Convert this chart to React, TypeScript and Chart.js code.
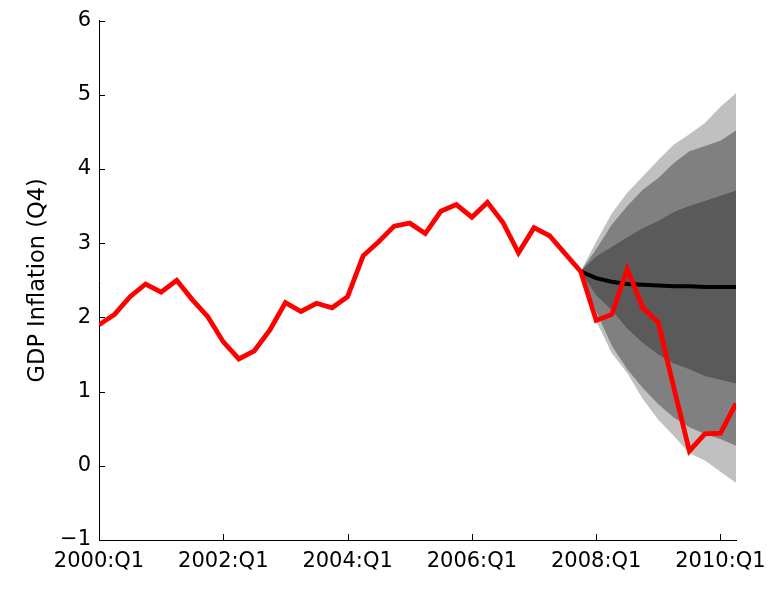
import React, { useEffect, useRef } from "react";
import { Chart, registerables } from "chart.js";

Chart.register(...registerables);

// Quarterly data, index 0 = 2000:Q1 ... index 41 = 2010:Q2
const tickLabels = ["2000:Q1", "2002:Q1", "2004:Q1", "2006:Q1", "2008:Q1", "2010:Q1"];
const tickIndices = [0, 8, 16, 24, 32, 40];
const yTicks = [-1, 0, 1, 2, 3, 4, 5, 6];

const actualInflation = [
  1.9, 2.04, 2.28, 2.45, 2.34, 2.5, 2.24, 2.01, 1.67, 1.44,
  1.55, 1.83, 2.2, 2.08, 2.19, 2.13, 2.28, 2.83, 3.02, 3.23,
  3.27, 3.13, 3.43, 3.52, 3.35, 3.55, 3.28, 2.87, 3.21, 3.1,
  2.86, 2.62, 1.96, 2.04, 2.65, 2.13, 1.93, 1.05, 0.2, 0.43,
  0.44, 0.84,
];

// Forecast fan, starting at 2007:Q4 (index 31)
const fanStart = 31;
const medianForecast = [2.62, 2.53, 2.48, 2.45, 2.44, 2.43, 2.42, 2.42, 2.41, 2.41, 2.41];
const lightUpper = [2.62, 3.02, 3.4, 3.68, 3.9, 4.12, 4.33, 4.47, 4.62, 4.84, 5.02];
const midUpper = [2.62, 2.92, 3.25, 3.5, 3.72, 3.88, 4.08, 4.24, 4.31, 4.38, 4.52];
const darkUpper = [2.62, 2.82, 2.95, 3.08, 3.2, 3.3, 3.42, 3.5, 3.57, 3.64, 3.71];
const darkLower = [2.62, 2.3, 2.1, 1.85, 1.66, 1.5, 1.38, 1.3, 1.21, 1.16, 1.11];
const midLower = [2.62, 2.08, 1.62, 1.3, 1.05, 0.83, 0.65, 0.52, 0.43, 0.36, 0.27];
const lightLower = [2.62, 1.95, 1.52, 1.25, 0.9, 0.62, 0.4, 0.17, 0.07, -0.08, -0.23];

const toPts = (arr: number[], start: number) => arr.map((v, i) => ({ x: start + i, y: v }));

const FONT = "DejaVu Sans";

const innerTicks = {
  id: "innerTicks",
  afterDatasetsDraw(chart: any) {
    const { ctx, chartArea, scales } = chart;
    ctx.save();
    ctx.strokeStyle = "#000";
    ctx.lineWidth = 1;
    scales.y.ticks.forEach((t: any) => {
      const py = Math.round(scales.y.getPixelForValue(t.value)) + 0.5;
      ctx.beginPath();
      ctx.moveTo(chartArea.left, py);
      ctx.lineTo(chartArea.left + 6, py);
      ctx.stroke();
    });
    scales.x.ticks.forEach((t: any) => {
      const px = Math.round(scales.x.getPixelForValue(t.value)) + 0.5;
      ctx.beginPath();
      ctx.moveTo(px, chartArea.bottom);
      ctx.lineTo(px, chartArea.bottom - 6);
      ctx.stroke();
    });
    ctx.restore();
  },
};

export default function App() {
  const ref = useRef<HTMLCanvasElement>(null);
  useEffect(() => {
    if (!ref.current) return;
    const band = (data: number[], order: number) => ({
      data: toPts(data, fanStart),
      borderWidth: 0,
      pointRadius: 0,
      order,
    });
    const chart = new Chart(ref.current, {
      type: "line",
      data: {
        datasets: [
          { ...band(lightLower, 10), fill: false },
          { ...band(lightUpper, 10), fill: 0, backgroundColor: "#c0c0c0" },
          { ...band(midLower, 9), fill: false },
          { ...band(midUpper, 9), fill: 2, backgroundColor: "#808080" },
          { ...band(darkLower, 8), fill: false },
          { ...band(darkUpper, 8), fill: 4, backgroundColor: "#5a5a5a" },
          {
            data: toPts(medianForecast, fanStart),
            borderColor: "#000",
            borderWidth: 4,
            pointRadius: 0,
            fill: false,
            order: 2,
          },
          {
            data: toPts(actualInflation, 0),
            borderColor: "#ff0000",
            borderWidth: 4.8,
            pointRadius: 0,
            fill: false,
            order: 1,
          },
        ] as any,
      },
      options: {
        animation: false,
        responsive: false,
        devicePixelRatio: 1,
        parsing: false as any,
        layout: { padding: { left: 0, top: 17, right: 46, bottom: 0 } },
        plugins: { legend: { display: false }, tooltip: { enabled: false } },
        elements: { line: { tension: 0 } },
        scales: {
          x: {
            type: "linear",
            min: 0,
            max: 41,
            grid: { display: false, drawTicks: false },
            border: { display: true, color: "#000", width: 1 },
            afterBuildTicks: (s: any) => {
              s.ticks = tickIndices.map((v) => ({ value: v }));
            },
            ticks: {
              color: "#000",
              padding: 9,
              maxRotation: 0,
              autoSkip: false,
              font: { family: FONT, size: 21 },
              callback: (v: any) => {
                const i = tickIndices.indexOf(Number(v));
                return i >= 0 ? tickLabels[i] : "";
              },
            },
            afterFit: (s: any) => {
              s.height = 49;
            },
          },
          y: {
            type: "linear",
            min: yTicks[0],
            max: yTicks[yTicks.length - 1],
            grid: { display: false, drawTicks: false },
            border: { display: true, color: "#000", width: 1 },
            afterBuildTicks: (s: any) => {
              s.ticks = yTicks.map((v) => ({ value: v }));
            },
            ticks: {
              color: "#000",
              padding: 8,
              font: { family: FONT, size: 21 },
              callback: (v: any) => (Number(v) < 0 ? "\u2212" + Math.abs(Number(v)) : String(v)),
            },
            title: {
              display: true,
              text: "GDP Inflation (Q4)",
              color: "#000",
              font: { family: FONT, size: 22.5 },
              padding: { top: 25, bottom: 0 },
            },
            afterFit: (s: any) => {
              s.width = 99;
            },
          },
        },
      },
      plugins: [innerTicks],
    });
    return () => chart.destroy();
  }, []);
  return (
    <div style={{ position: "fixed", left: 0, top: 0, width: 782, height: 589, background: "#fff" }}>
      <canvas ref={ref} width={782} height={589} />
    </div>
  );
}
